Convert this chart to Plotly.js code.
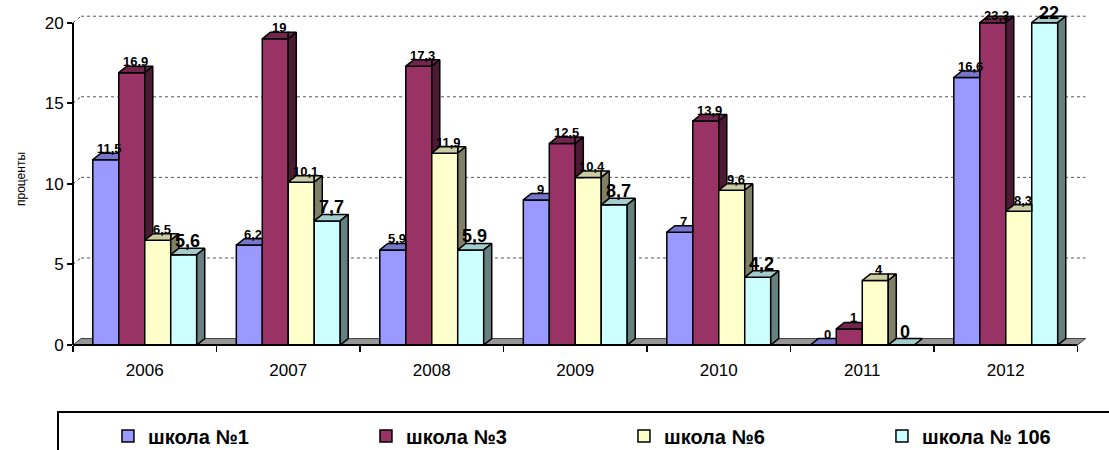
<!DOCTYPE html>
<html><head><meta charset="utf-8">
<script src="https://cdn.plot.ly/plotly-3.0.1.min.js"></script>
<style>html,body{margin:0;padding:0;background:#fff}#chart{width:1109px;height:450px}</style>
</head><body><div id="chart"></div>
<script>
const years = ['2006','2007','2008','2009','2010','2011','2012'];
const seriesNames = ['школа №1','школа №3','школа №6','школа № 106'];
const school1 = [11.5, 6.2, 5.9, 9, 7, 0, 16.6];
const school3 = [16.9, 19, 17.3, 12.5, 13.9, 1, 23.3];
const school6 = [6.5, 10.1, 11.9, 10.4, 9.6, 4, 8.3];
const school106 = [5.6, 7.7, 5.9, 8.7, 4.2, 0, 22];
const yTicks = [0, 5, 10, 15, 20];

const series = [school1, school3, school6, school106];
const frontColors = ['#9999FF','#993366','#FFFFCC','#CCFFFF'];
const topColors = ['#7676CC','#73264D','#CCCCA3','#A3CCCC'];
const sideColors = ['#4D4D80','#4D1A33','#808066','#668080'];
const labelSizes = [13, 13, 13, 18];

const FONT = 'Arial, "Liberation Sans", sans-serif';
const YMAX = 20, YTOP = 20.6, BW = 0.181, DX = 0.056, DY = 0.4;
const NCAT = years.length, XMAX = NCAT + 0.08;

function clip(poly, f) {
  const out = [];
  for (let i = 0; i < poly.length; i++) {
    const a = poly[i], b = poly[(i + 1) % poly.length];
    const fa = f(a), fb = f(b);
    if (fa >= 0) out.push(a);
    if ((fa >= 0) !== (fb >= 0)) {
      const t = fa / (fa - fb);
      out.push([a[0] + t * (b[0] - a[0]), a[1] + t * (b[1] - a[1])]);
    }
  }
  return out;
}
function polyArea(p){let s=0;for(let i=0;i<p.length;i++){const a=p[i],b=p[(i+1)%p.length];s+=a[0]*b[1]-b[0]*a[1];}return Math.abs(s/2);}
function pushPoly(acc, p) {
  if (p.length < 3 || polyArea(p) < 1e-6) return;
  p.forEach(q => { acc.x.push(q[0]); acc.y.push(q[1]); });
  acc.x.push(p[0][0]); acc.y.push(p[0][1]);
  acc.x.push(null); acc.y.push(null);
}

const traces = [];
const faceTraces = [];
const annotations = [];
series.forEach((vals, j) => {
  const xs = [], hs = [];
  const topAcc = {x: [], y: []}, sideAcc = {x: [], y: []};
  vals.forEach((v, i) => {
    const c = i + 0.5 + (j - (series.length - 1) / 2) * BW;
    const h = Math.min(v, YMAX);
    xs.push(c); hs.push(h);
    const xl = c - BW / 2, xr = c + BW / 2;
    const u = j < series.length - 1 ? Math.min(series[j + 1][i], YMAX) : null;
    const top = [[xl, h], [xr, h], [xr + DX, h + DY], [xl + DX, h + DY]];
    const side = [[xr, 0], [xr, h], [xr + DX, h + DY], [xr + DX, DY]];
    if (u === null) {
      pushPoly(topAcc, top);
      pushPoly(sideAcc, side);
    } else {
      pushPoly(topAcc, clip(top, p => xr - p[0]));
      pushPoly(topAcc, clip(clip(top, p => p[0] - xr), p => p[1] - u));
      pushPoly(sideAcc, clip(side, p => p[1] - u));
    }
    annotations.push({
      x: c + DX / 2, y: h + DY, xref: 'x', yref: 'y',
      text: String(v).replace('.', ','), showarrow: false,
      yanchor: 'bottom', xanchor: 'center', yshift: v > YMAX ? -9 : -5,
      font: {family: FONT, size: labelSizes[j], color: '#000', weight: 'bold'}
    });
  });
  traces.push({
    type: 'bar', x: xs, y: hs, width: BW, name: seriesNames[j],
    marker: {color: frontColors[j], line: {color: '#000', width: 1.5}},
    hoverinfo: 'skip'
  });
  faceTraces.push({
    type: 'scatter', mode: 'lines', x: topAcc.x, y: topAcc.y, fill: 'toself',
    fillcolor: topColors[j], line: {color: '#000', width: 1.5}, showlegend: false, hoverinfo: 'skip'
  });
  faceTraces.push({
    type: 'scatter', mode: 'lines', x: sideAcc.x, y: sideAcc.y, fill: 'toself',
    fillcolor: sideColors[j], line: {color: '#000', width: 1.5}, showlegend: false, hoverinfo: 'skip'
  });
});

const shapes = [];
shapes.push({type: 'path', xref: 'x', yref: 'y', layer: 'below',
  path: `M0,0 L${NCAT},0 L${NCAT + DX},${DY} L${DX},${DY} Z`,
  fillcolor: '#969696', line: {color: '#404040', width: 1}});
yTicks.filter(k => k > 0).forEach(k => {
  shapes.push({type: 'line', xref: 'x', yref: 'y', layer: 'below',
    x0: DX, x1: NCAT + DX, y0: k + DY, y1: k + DY, line: {color: '#555', width: 1, dash: 'dot'}});
  shapes.push({type: 'line', xref: 'x', yref: 'y', layer: 'below',
    x0: 0, x1: DX, y0: k, y1: k + DY, line: {color: '#555', width: 1, dash: 'dot'}});
});
shapes.push({type: 'line', xref: 'paper', yref: 'paper', x0: 0, x1: 0, y0: 0, y1: YMAX / YTOP,
  line: {color: '#000', width: 2}});
shapes.push({type: 'line', xref: 'paper', yref: 'paper', x0: 0, x1: NCAT / XMAX, y0: 0, y1: 0,
  line: {color: '#000', width: 2}});
const ML = 73, MR = 20, MT = 13, MB = 105;
const plotW = 1109 - ML - MR, plotH = 450 - MT - MB;
shapes.push({type: 'rect', xref: 'paper', yref: 'paper',
  x0: (58 - ML) / plotW, x1: 1.06, y0: -0.45, y1: (345 - 412) / plotH,
  line: {color: '#000', width: 2}, fillcolor: 'rgba(0,0,0,0)'});

const layout = {
  width: 1109, height: 450,
  margin: {l: ML, r: MR, t: MT, b: MB, autoexpand: false},
  paper_bgcolor: '#fff', plot_bgcolor: 'rgba(0,0,0,0)',
  barmode: 'overlay',
  showlegend: true,
  hovermode: false,
  font: {family: FONT, color: '#000'},
  xaxis: {
    range: [0, XMAX], tickmode: 'array',
    tickvals: years.map((_, i) => i + 0.5), ticktext: years,
    ticks: '', showline: false, showgrid: false, zeroline: false,
    tickfont: {family: FONT, size: 17, color: '#000'},
    ticklabelstandoff: 13,
    minor: {tickmode: 'array', tickvals: years.map((_, i) => i).concat([NCAT]),
      ticks: 'outside', ticklen: 6, tickwidth: 1.5, tickcolor: '#000', showgrid: false}
  },
  yaxis: {
    range: [0, YTOP], tickmode: 'array', tickvals: yTicks, ticktext: yTicks.map(String),
    ticks: 'outside', ticklen: 5, tickwidth: 2, tickcolor: '#000',
    showline: false, showgrid: false, zeroline: false,
    tickfont: {family: FONT, size: 17, color: '#000'},
    title: {text: 'проценты', font: {family: FONT, size: 12, color: '#000'}, standoff: 16}
  },
  legend: {
    orientation: 'h', x: -0.002, xanchor: 'left', y: (345 - 436) / plotH, yanchor: 'middle',
    entrywidth: 176, entrywidthmode: 'pixels', traceorder: 'normal', indentation: 37,
    font: {family: FONT, size: 20, color: '#000', weight: 'bold'},
    bgcolor: 'rgba(0,0,0,0)', borderwidth: 0
  },
  shapes: shapes,
  annotations: annotations
};

Plotly.newPlot('chart', traces.concat(faceTraces), layout, {staticPlot: true, displayModeBar: false});
</script>
</body></html>
